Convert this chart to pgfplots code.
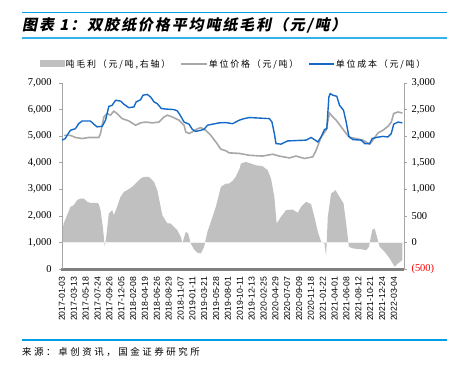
\documentclass[border=0pt]{standalone}
\usepackage{pgfplots}
\pgfplotsset{compat=1.18}
\usepackage{fontspec}
\setmainfont{Liberation Serif}
\newfontfamily\sansf{Liberation Sans}
\newfontfamily\cjk[LetterSpace=20]{Noto Sans CJK SC}
\newfontfamily\cjksrc[LetterSpace=27]{Noto Sans CJK SC}
\newfontfamily\titlefont[FakeSlant=0.2,LetterSpace=13]{Noto Sans CJK SC}
\definecolor{areagray}{RGB}{192,192,192}
\definecolor{pricegray}{RGB}{168,168,168}
\definecolor{costblue}{RGB}{20,105,200}
\definecolor{axgray}{RGB}{165,165,165}
\definecolor{bargray}{RGB}{128,128,128}
\definecolor{titleblue}{RGB}{0,160,233}
\begin{document}
\begin{tikzpicture}[x=1bp,y=1bp]
\useasboundingbox (0,0) rectangle (469,365);
% title and rules
\draw[titleblue, line width=0.9bp] (22,353) -- (447,353);
\draw[titleblue!80, line width=2bp] (22,327) -- (447,327);
\node[anchor=west, inner sep=0] at (22,340) {\titlefont\bfseries\fontsize{15}{16}\selectfont 图表 1：双胶纸价格平均吨纸毛利（元/吨）};
\draw[titleblue, line width=1.2bp] (22,25) -- (447,25);
\node[anchor=west, inner sep=0] at (22,13) {\cjksrc\fontsize{9.5}{11}\selectfont 来源：卓创资讯，国金证券研究所};
% right axis: gross profit area
\begin{axis}[
  at={(62bp,96bp)}, anchor=south west, scale only axis,
  width=342bp, height=186bp,
  xmin=0, xmax=28.85, ymin=-500, ymax=3000,
  axis x line=none, axis y line*=right,
  axis line style={-, draw=axgray, line width=1bp},
  ytick={-500,0,500,1000,1500,2000,2500,3000},
  yticklabels={{\color{red}(500)},0,500,{1,000},{1,500},{2,000},{2,500},{3,000}},
  tick align=outside, major tick length=3bp,
  tick style={draw=axgray, line width=0.7bp},
  y tick label style={font=\fontsize{10.5}{12}\selectfont, xshift=1bp},
  clip=false,
  legend columns=3,
  legend style={at={(0.5,1)}, anchor=center, xshift=0bp, yshift=19bp, draw=none, fill=none,
    font=\cjk\fontsize{9}{10}\selectfont,
    /tikz/every even column/.append style={column sep=9bp},
    nodes={inner xsep=1bp}},
  legend cell align=left,
]
\addplot[fill=areagray, draw=none,
  legend image code/.code={\fill[areagray] (0bp,-3.5bp) rectangle (25bp,3.5bp);}]
coordinates {(0,0) (0,150) (0.14,357) (0.43,513) (0.71,670) (0.99,700) (1.27,795) (1.55,826) (1.84,826) (2.12,764) (2.40,745) (2.96,745) (3.10,720) (3.25,607) (3.44,294) (3.61,-81) (3.73,106) (3.95,545) (4.23,607) (4.37,513) (4.65,670) (4.94,858) (5.22,952) (5.50,983) (5.92,1046) (6.35,1140) (6.63,1202) (6.91,1233) (7.34,1233) (7.76,1140) (8.04,983) (8.46,513) (8.89,357) (9.17,357) (9.45,294) (9.73,232) (10.02,106) (10.16,-19) (10.44,200) (10.64,169) (10.86,-19) (11.14,-131) (11.43,-194) (11.71,-207) (11.99,-81) (12.27,200) (12.70,482) (12.98,670) (13.40,1046) (13.82,1108) (14.10,1108) (14.39,1160) (14.65,1233) (15.0,1400) (15.09,1484) (15.51,1515) (15.94,1484) (16.36,1452) (16.92,1434) (17.35,1359) (17.63,1202) (17.91,858) (18.11,357) (18.47,482) (18.90,607) (19.46,620) (19.88,557) (20.17,670) (20.59,764) (21.01,720) (21.29,482) (21.58,200) (21.86,13) (22.14,-19) (22.28,-257) (22.42,482) (22.70,920) (23.07,983) (23.41,858) (23.75,733) (23.97,357) (24.20,-81) (24.54,-113) (25.10,-125) (25.67,-144) (25.89,-81) (26.17,232) (26.37,263) (26.57,106) (26.79,-81) (27.21,-175) (27.64,-300) (28.06,-457) (28.34,-394) (28.71,-332) (28.71,0)} \closedcycle;
\addlegendentry{吨毛利（元/吨,右轴）}
\addlegendimage{legend image code/.code={\draw[pricegray, line width=1.6bp] (0bp,0bp) -- (26bp,0bp);}}
\addlegendentry{单位价格（元/吨）}
\addlegendimage{legend image code/.code={\draw[costblue, line width=1.3bp] (0bp,0bp) -- (25bp,0bp);}}
\addlegendentry{单位成本（元/吨）}
\addplot[draw=gray!12, line width=0.8bp, forget plot] coordinates {(0,0) (28.85,0)};
\end{axis}
% left axis: price and cost
\begin{axis}[
  at={(62bp,96bp)}, anchor=south west, scale only axis,
  width=342bp, height=186bp,
  xmin=0, xmax=28.85, ymin=0, ymax=7000,
  axis x line*=bottom, axis y line*=left,
  axis line style={-},
  y axis line style={draw=axgray, line width=1bp},
  x axis line style={draw=bargray, line width=3bp, shorten <=-1bp},
  ytick={0,1000,...,7000},
  yticklabels={0,{1,000},{2,000},{3,000},{4,000},{5,000},{6,000},{7,000}},
  tick align=outside, major tick length=3bp,
  y tick style={draw=axgray, line width=0.7bp},
  x tick style={draw=none},
  y tick label style={font=\fontsize{10.5}{12}\selectfont, xshift=-4bp},
  xtick={0,1,...,28},
  xticklabels={2017-01-03,2017-03-13,2017-05-18,2017-07-24,2017-09-26,2017-12-05,2018-02-08,2018-04-19,2018-06-26,2018-08-29,2018-11-07,2019-01-11,2019-03-21,2019-05-28,2019-08-01,2019-10-11,2019-12-13,2020-02-25,2020-04-29,2020-07-07,2020-09-09,2020-11-18,2021-01-22,2021-04-01,2021-06-08,2021-08-12,2021-10-21,2021-12-24,2022-03-04},
  x tick label style={rotate=90, anchor=east, font=\sansf\fontsize{8.7}{9}\selectfont, yshift=0bp, xshift=-1bp},
]
\addplot[pricegray, line width=1.6bp] coordinates {(0.15,5030) (0.71,5030) (1.13,4950) (1.69,4910) (2.26,4950) (3.11,4950) (3.25,5100) (3.53,5720) (3.81,5850) (4.09,5790) (4.37,5940) (4.65,5850) (5.08,5660) (5.64,5570) (6.21,5410) (6.63,5500) (7.05,5530) (7.62,5500) (8.18,5530) (8.60,5720) (8.89,5790) (9.31,5720) (9.87,5600) (10.30,5410) (10.44,5160) (10.72,5100) (11.00,5160) (11.43,5280) (11.71,5320) (12.13,5220) (12.55,5030) (12.98,4780) (13.40,4510) (13.82,4450) (14.10,4370) (14.95,4350) (15.80,4280) (16.92,4250) (17.77,4320) (18.33,4250) (19.18,4180) (19.74,4250) (20.45,4160) (21.15,4220) (21.44,4470) (21.86,4970) (22.28,5220) (22.56,5870) (22.85,5720) (23.13,5600) (23.55,5350) (23.97,5100) (24.26,4950) (24.82,4910) (25.38,4850) (25.95,4700) (26.23,4850) (26.65,5120) (27.07,5220) (27.50,5370) (27.78,5530) (27.98,5850) (28.34,5910) (28.71,5870)};
\addplot[costblue, line width=1.4bp] coordinates {(0,4850) (0.28,4910) (0.43,5030) (0.71,5220) (1.13,5280) (1.41,5470) (1.69,5570) (2.40,5570) (2.68,5450) (2.96,5350) (3.39,5370) (3.67,5600) (3.95,6120) (4.23,6160) (4.52,6350) (4.94,6320) (5.22,6200) (5.64,6070) (6.07,6100) (6.26,6290) (6.63,6370) (6.83,6540) (7.19,6570) (7.48,6470) (7.76,6290) (8.04,6220) (8.38,6040) (8.75,6020) (9.45,6000) (9.73,5950) (10.02,5750) (10.30,5530) (10.72,5450) (11.00,5250) (11.28,5180) (11.71,5220) (11.99,5260) (12.27,5410) (12.70,5450) (13.26,5500) (13.82,5510) (14.39,5470) (14.95,5600) (15.37,5660) (15.80,5700) (17.49,5660) (17.71,5530) (17.91,5100) (18.05,4720) (18.47,4700) (19.04,4820) (20.59,4850) (21.01,4950) (21.29,4870) (21.58,4780) (21.86,4970) (22.14,5250) (22.34,5280) (22.51,6470) (22.62,6600) (22.85,6540) (23.18,6500) (23.41,6160) (23.75,5970) (23.97,5530) (24.20,4990) (24.54,4870) (25.24,4850) (25.53,4720) (25.95,4720) (26.17,4910) (26.51,4950) (27.07,4990) (27.50,4970) (27.78,5100) (27.98,5450) (28.34,5530) (28.71,5500)};
\end{axis}
\end{tikzpicture}
\end{document}
